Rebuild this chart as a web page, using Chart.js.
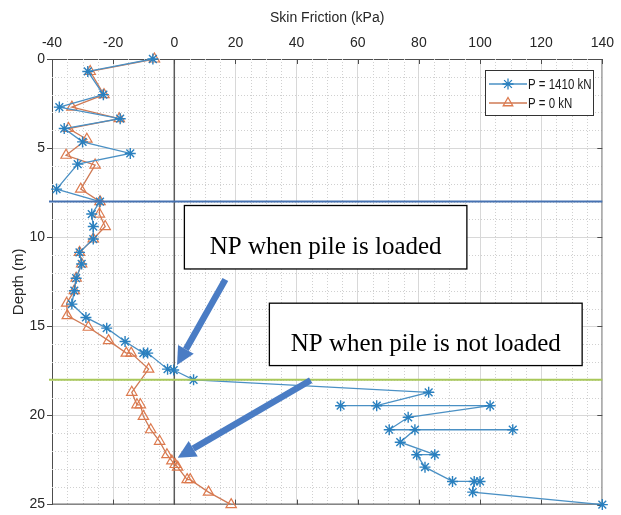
<!DOCTYPE html>
<html>
<head>
<meta charset="utf-8">
<script src="https://cdn.jsdelivr.net/npm/chart.js@4.4.1/dist/chart.umd.min.js"></script>
<style>
  html, body { margin: 0; padding: 0; background: #fff; }
  #wrap { width: 621px; height: 515px; }
</style>
</head>
<body>
<div id="wrap"><canvas id="skin-chart" width="621" height="515"></canvas></div>
<script>
// skin friction along the pile, P = 1410 kN
var loadedX = [-7, -28.3, -23.2, -37.6, -17.7, -36, -30, -14.4, -31.6, -38.5, -24.3, -27, -26.5, -26.5, -31, -30.3, -32.1, -32.7, -33.5, -28.9, -22.1, -16.1, -10.1, -8.7, -2.2, -0.2, 6.3, 83.2, 66.2, 54.4, 103.3, 76.5, 70.3, 110.7, 78.7, 73.9, 85.2, 79.3, 82, 91, 100, 98.1, 97.6, 140];
var loadedDepth = [0, 0.7, 2.0, 2.7, 3.35, 3.9, 4.65, 5.3, 5.9, 7.3, 8.0, 8.7, 9.4, 10.1, 10.85, 11.5, 12.3, 13.0, 13.75, 14.5, 15.1, 15.85, 16.5, 16.5, 17.4, 17.45, 18.0, 18.7, 19.45, 19.45, 19.45, 20.1, 20.8, 20.8, 20.8, 21.5, 22.2, 22.2, 22.9, 23.7, 23.7, 23.7, 24.3, 25.0];

// P = 0 kN
var unloadedX = [-6.5, -27.5, -23, -33.5, -18, -34.6, -28.6, -35.4, -25.9, -30.6, -24.3, -24.5, -22.6, -26.5, -31, -30.3, -32.1, -32.7, -35.2, -35, -28.1, -21.5, -15.7, -14.1, -8.4, -13.9, -12.2, -11.1, -10.1, -7.7, -4.8, -2.4, -0.8, 0.3, 1.1, 4.2, 5.2, 11.2, 18.6];
var unloadedDepth = [0, 0.7, 2.0, 2.7, 3.35, 3.9, 4.5, 5.4, 5.95, 7.3, 8.0, 8.7, 9.4, 10.1, 10.85, 11.5, 12.3, 13.0, 13.7, 14.4, 15.05, 15.8, 16.5, 16.5, 17.4, 18.7, 19.4, 19.4, 20.05, 20.8, 21.45, 22.2, 22.55, 22.75, 22.9, 23.6, 23.6, 24.3, 25.0];

var seriesNames = ["P = 1410 kN", "P = 0 kN"];
var xTicks = [-40, -20, 0, 20, 40, 60, 80, 100, 120, 140];
var depthTicks = [0, 5, 10, 15, 20, 25];

// neutral plane depths (horizontal lines)
var npDepths = [8, 18];
var npColors = ["#4672b2", "#a9c85a"];

// text boxes: [xFrom, xTo, depthFrom, depthTo]
var noteText = ["NP when pile is loaded", "NP when pile is not loaded"];
var noteBox = [[3.3, 95.7, 8.22, 11.78], [31.1, 133.4, 13.7, 17.2]];
// arrows: [tailX, tailDepth, headX, headDepth]
var noteArrow = [[16.7, 12.37, 0.9, 17.17], [44.6, 18.02, 1.1, 22.37]];

var blue = "#2a80bf";
var blueLine = "#4a90c4";
var orange = "#dd7a4e";
var orangeLine = "#cf7a55";
var sans = "'Liberation Sans', Arial, sans-serif";

function toPoints(xs, ds) {
  var pts = [];
  for (var i = 0; i < xs.length; i++) pts.push({ x: xs[i], y: ds[i] });
  return pts;
}

var extras = {
  id: "extras",
  beforeDatasetsDraw: function (chart) {
    var ctx = chart.ctx, xs = chart.scales.x, ys = chart.scales.y, a = chart.chartArea;
    ctx.save();
    // minor grid, dotted
    ctx.strokeStyle = "#d0d0d0";
    ctx.lineWidth = 1;
    ctx.setLineDash([1, 2]);
    for (var v = -40; v <= 140; v += 5) {
      if (v % 20 === 0) continue;
      var px = Math.round(xs.getPixelForValue(v)) + 0.5;
      ctx.beginPath(); ctx.moveTo(px, a.top); ctx.lineTo(px, a.bottom); ctx.stroke();
    }
    for (var d = 0; d <= 25; d += 1) {
      if (d % 5 === 0) continue;
      var py = Math.round(ys.getPixelForValue(d)) + 0.5;
      ctx.beginPath(); ctx.moveTo(a.left, py); ctx.lineTo(a.right, py); ctx.stroke();
    }
    ctx.setLineDash([]);
    // zero line
    ctx.strokeStyle = "#5a5a5a";
    ctx.lineWidth = 1.5;
    var zx = xs.getPixelForValue(0);
    ctx.beginPath(); ctx.moveTo(zx, a.top); ctx.lineTo(zx, a.bottom); ctx.stroke();
    // box: bottom and right edges + inner ticks
    ctx.strokeStyle = "#4d4d4d";
    ctx.lineWidth = 1;
    ctx.beginPath(); ctx.moveTo(a.left, a.bottom - 0.5); ctx.lineTo(a.right, a.bottom - 0.5); ctx.stroke();
    ctx.strokeStyle = "#8a8a8a";
    ctx.beginPath(); ctx.moveTo(a.right - 0.5, a.top); ctx.lineTo(a.right - 0.5, a.bottom); ctx.stroke();
    ctx.strokeStyle = "#4d4d4d";
    xTicks.forEach(function (t) {
      var tx = Math.round(xs.getPixelForValue(t)) + 0.5;
      ctx.beginPath(); ctx.moveTo(tx, a.top); ctx.lineTo(tx, a.top + 5); ctx.stroke();
      ctx.beginPath(); ctx.moveTo(tx, a.bottom); ctx.lineTo(tx, a.bottom - 5); ctx.stroke();
    });
    depthTicks.forEach(function (t) {
      var ty = Math.round(ys.getPixelForValue(t)) + 0.5;
      ctx.beginPath(); ctx.moveTo(a.right, ty); ctx.lineTo(a.right - 5, ty); ctx.stroke();
    });
    ctx.restore();
  },
  afterDatasetsDraw: function (chart) {
    var ctx = chart.ctx, xs = chart.scales.x, ys = chart.scales.y, a = chart.chartArea;
    ctx.save();
    // neutral plane lines
    npDepths.forEach(function (d, i) {
      var py = ys.getPixelForValue(d);
      ctx.strokeStyle = npColors[i];
      ctx.lineWidth = 2;
      ctx.beginPath(); ctx.moveTo(a.left - 3, py); ctx.lineTo(a.right, py); ctx.stroke();
    });
    // text boxes
    noteBox.forEach(function (b, i) {
      var x0 = xs.getPixelForValue(b[0]), x1 = xs.getPixelForValue(b[1]);
      var y0 = ys.getPixelForValue(b[2]), y1 = ys.getPixelForValue(b[3]);
      ctx.fillStyle = "#fff";
      ctx.fillRect(x0, y0, x1 - x0, y1 - y0);
      ctx.strokeStyle = "#000";
      ctx.lineWidth = 1.3;
      ctx.strokeRect(x0, y0, x1 - x0, y1 - y0);
      ctx.fillStyle = "#000";
      ctx.font = "25px 'Liberation Serif', 'Times New Roman', serif";
      ctx.textAlign = "center";
      ctx.textBaseline = "alphabetic";
      ctx.fillText(noteText[i], (x0 + x1) / 2, y0 + (y1 - y0) * 0.77);
    });
    // arrows
    noteArrow.forEach(function (ar) {
      var tx = xs.getPixelForValue(ar[0]), ty = ys.getPixelForValue(ar[1]);
      var hx = xs.getPixelForValue(ar[2]), hy = ys.getPixelForValue(ar[3]);
      var ang = Math.atan2(hy - ty, hx - tx);
      var headLen = 18, headW = 9;
      var bx = hx - headLen * Math.cos(ang), by = hy - headLen * Math.sin(ang);
      ctx.strokeStyle = "#4a7cc4";
      ctx.fillStyle = "#4a7cc4";
      ctx.lineWidth = 6.5;
      ctx.lineCap = "butt";
      ctx.beginPath(); ctx.moveTo(tx, ty); ctx.lineTo(bx, by); ctx.stroke();
      ctx.beginPath();
      ctx.moveTo(hx, hy);
      ctx.lineTo(bx + headW * Math.sin(ang), by - headW * Math.cos(ang));
      ctx.lineTo(bx - headW * Math.sin(ang), by + headW * Math.cos(ang));
      ctx.closePath();
      ctx.fill();
    });
    ctx.restore();
  },
  afterDraw: function (chart) {
    // legend, drawn MATLAB style
    var ctx = chart.ctx;
    ctx.save();
    var lx = 485, ly = 70, lw = 108, lh = 45;
    ctx.fillStyle = "#fff";
    ctx.fillRect(lx, ly, lw, lh);
    ctx.strokeStyle = "#333";
    ctx.lineWidth = 1;
    ctx.strokeRect(lx + 0.5, ly + 0.5, lw, lh);
    var rows = [ly + 14, ly + 33];
    var cols = [[blueLine, blue, "star"], [orangeLine, orange, "triangle"]];
    rows.forEach(function (ry, i) {
      ctx.strokeStyle = cols[i][0];
      ctx.lineWidth = 1.3;
      ctx.beginPath(); ctx.moveTo(lx + 4, ry); ctx.lineTo(lx + 42, ry); ctx.stroke();
      ctx.strokeStyle = cols[i][1];
      ctx.fillStyle = "rgba(0,0,0,0)";
      Chart.helpers.drawPoint(ctx, { pointStyle: cols[i][2], radius: 5.5, rotation: 0, borderWidth: 1.2 }, lx + 23, ry);
      // narrow text: squeeze horizontally
      ctx.save();
      ctx.translate(lx + 43, ry + 1);
      ctx.scale(0.82, 1);
      ctx.fillStyle = "#1a1a1a";
      ctx.font = "14px " + sans;
      ctx.textAlign = "left";
      ctx.textBaseline = "middle";
      ctx.fillText(seriesNames[i], 0, 0);
      ctx.restore();
    });
    ctx.restore();
  }
};

new Chart(document.getElementById("skin-chart"), {
  type: "scatter",
  data: {
    datasets: [
      {
        label: seriesNames[0],
        data: toPoints(loadedX, loadedDepth),
        showLine: true,
        borderColor: blueLine,
        borderWidth: 1.3,
        pointStyle: "star",
        pointRadius: 5.5,
        pointBorderColor: blue,
        pointBorderWidth: 1.4,
        pointBackgroundColor: blue,
        tension: 0
      },
      {
        label: seriesNames[1],
        data: toPoints(unloadedX, unloadedDepth),
        showLine: true,
        borderColor: orangeLine,
        borderWidth: 1.3,
        pointStyle: "triangle",
        pointRadius: 6,
        pointBorderColor: orange,
        pointBorderWidth: 1.2,
        pointBackgroundColor: "rgba(255,255,255,0)",
        tension: 0
      }
    ]
  },
  options: {
    responsive: false,
    animation: false,
    clip: false,
    layout: { padding: { left: 0, right: 18, top: 0, bottom: 6 } },
    plugins: {
      legend: { display: false },
      tooltip: { enabled: false }
    },
    scales: {
      x: {
        type: "linear",
        position: "top",
        min: -40,
        max: 140,
        afterBuildTicks: function (s) { s.ticks = xTicks.map(function (v) { return { value: v }; }); },
        afterFit: function (s) { s.height = 59; },
        grid: { color: "#d8d8d8", lineWidth: 1, drawTicks: false },
        border: { color: "#4d4d4d", width: 1 },
        ticks: { color: "#262626", font: { size: 14, family: sans }, padding: 7, maxRotation: 0 },
        title: { display: true, text: "Skin Friction (kPa)", color: "#262626", font: { size: 14, family: sans }, padding: { top: 10, bottom: 0 } }
      },
      y: {
        type: "linear",
        reverse: true,
        min: 0,
        max: 25,
        afterBuildTicks: function (s) { s.ticks = depthTicks.map(function (v) { return { value: v }; }); },
        afterFit: function (s) { s.width = 52; },
        grid: { color: "#d8d8d8", lineWidth: 1, drawTicks: true, tickLength: 5, tickColor: "#4d4d4d" },
        border: { color: "#4d4d4d", width: 1 },
        ticks: { color: "#262626", font: { size: 14, family: sans }, padding: 2 },
        title: { display: true, text: "Depth (m)", color: "#262626", font: { size: 15, family: sans }, padding: { top: 10, bottom: 0 } }
      }
    }
  },
  plugins: [extras]
});
</script>
</body>
</html>
